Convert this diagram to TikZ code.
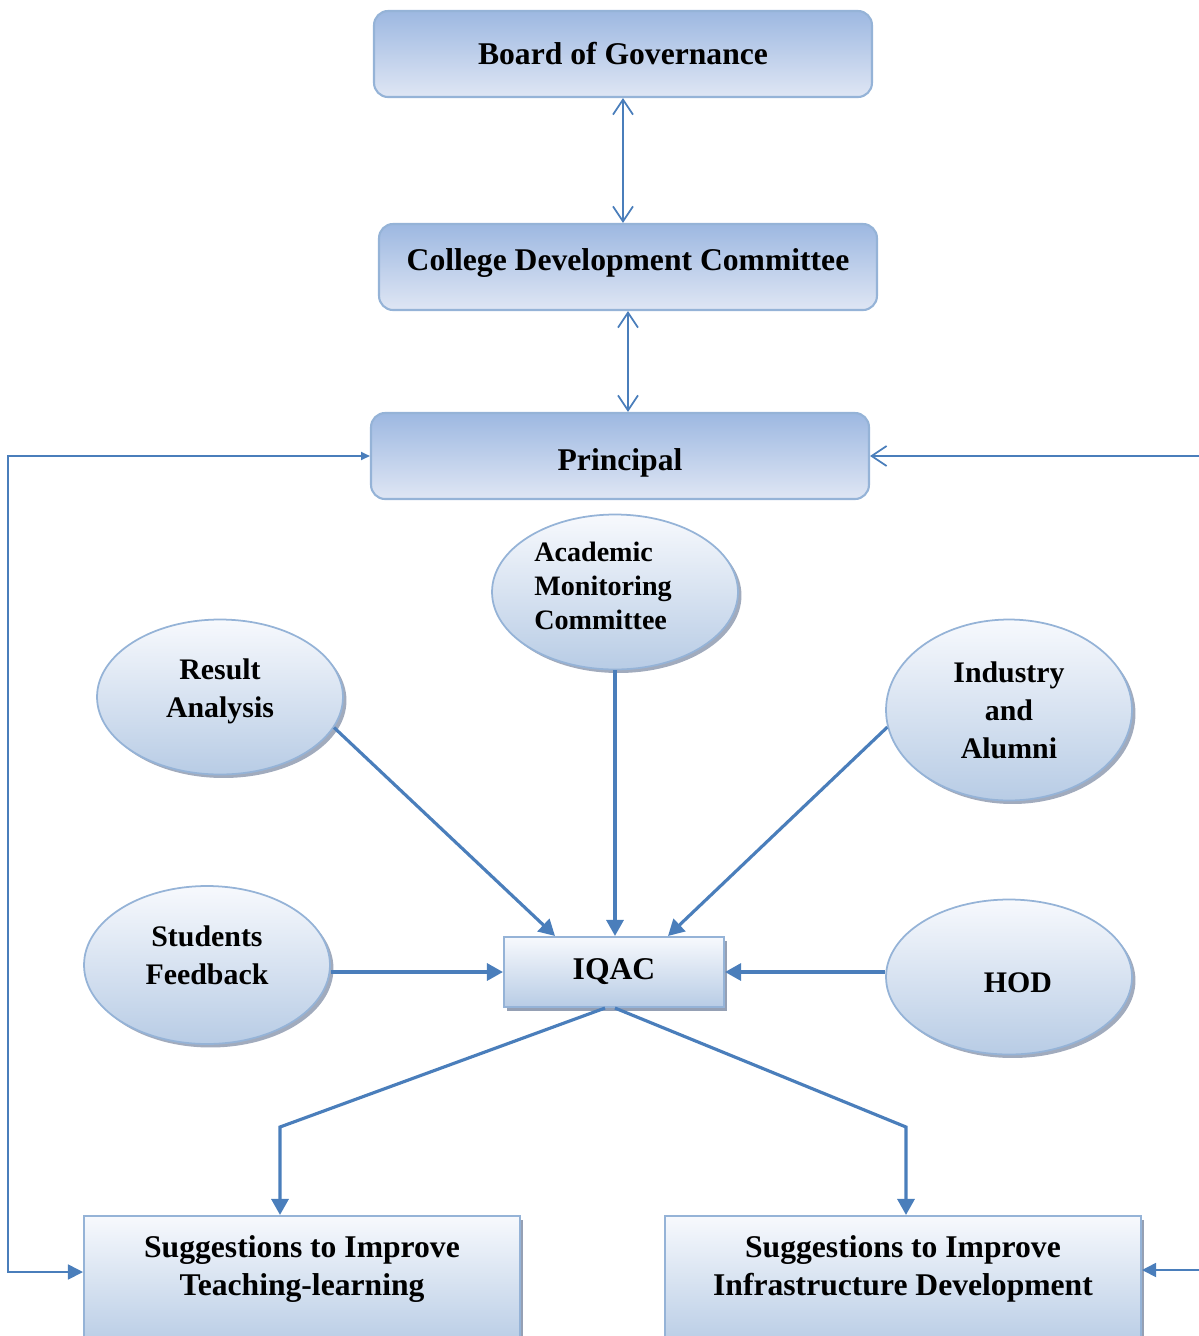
\documentclass[tikz,border=0pt]{standalone}
\usepackage{fontspec}
\setmainfont{Liberation Serif}
\usetikzlibrary{positioning,shapes.geometric,shadows,arrows.meta}

\definecolor{lineblue}{RGB}{74,126,187}
\definecolor{edgeblue}{RGB}{149,179,215}
\definecolor{boxtop}{RGB}{157,184,225}
\definecolor{boxbot}{RGB}{223,230,244}
\definecolor{ovaltop}{RGB}{247,249,253}
\definecolor{ovalbot}{RGB}{184,204,229}
\definecolor{shadowgrey}{RGB}{138,150,172}

\tikzset{
	govbox/.style={draw=edgeblue, line width=1.2pt, rounded corners=0.28cm,
		top color=boxtop, bottom color=boxbot,
		minimum width=9.96cm, minimum height=1.72cm,
		font=\fontsize{18}{21.6}\selectfont\bfseries},
	oval/.style={ellipse, draw=edgeblue, line width=1pt,
		top color=ovaltop, bottom color=ovalbot,
		minimum width=4.92cm, minimum height=3.1cm, inner sep=0pt,
		drop shadow={shadow xshift=0.07cm, shadow yshift=-0.07cm, fill=shadowgrey, opacity=0.8}},
	ovaltext/.style={inner sep=0pt, align=center, font=\fontsize{17}{21.6}\selectfont\bfseries},
	sqbox/.style={draw=edgeblue, line width=1.2pt,
		top color=ovaltop, bottom color=ovalbot,
		drop shadow={shadow xshift=0.06cm, shadow yshift=-0.08cm, fill=shadowgrey, opacity=0.9}},
	sugtext/.style={inner sep=0pt, align=center, font=\fontsize{18}{21.6}\selectfont\bfseries},
	twoway/.style={draw=lineblue, line width=1pt,
		{Straight Barb[length=0.3cm,width=0.4cm]}-{Straight Barb[length=0.3cm,width=0.4cm]}},
	feed/.style={draw=lineblue, line width=1.8pt, -{Triangle[length=0.32cm,width=0.34cm]}},
	side/.style={draw=lineblue, line width=1pt},
}

\begin{document}
\begin{tikzpicture}[x=0.02cm, y=-0.02cm]
	\useasboundingbox (0,0) rectangle (1199,1336);

	% top chain
	\node[govbox] (board) at (623,54) {Board of Governance};
	\node[govbox] (cdc) at (628,267) {\raisebox{0.08cm}[\height][\depth]{College Development Committee}};
	\node[govbox] (principal) at (620,456) {\raisebox{-0.14cm}[\height][\depth]{Principal}};

	% inputs
	\node[oval, label={[ovaltext, yshift=0.12cm]center:Result\\Analysis}] (result) at (220,697) {};
	\node[oval, label={[ovaltext, align=left, font=\fontsize{16}{19.4}\selectfont\bfseries,
		xshift=-0.24cm, yshift=0.12cm]center:Academic\\Monitoring\\Committee}] (amc) at (615,592) {};
	\node[oval, minimum height=3.62cm, label={[ovaltext]center:Industry\\and\\Alumni}] (industry) at (1009,710) {};
	\node[oval, minimum height=3.16cm, label={[ovaltext, yshift=0.2cm]center:Students\\Feedback}] (students) at (207,965) {};
	\node[oval, label={[ovaltext, xshift=0.18cm, yshift=-0.12cm]center:HOD}] (hod) at (1009,977) {};

	\node[sqbox, minimum width=4.4cm, minimum height=1.4cm,
		font=\fontsize{18}{21.6}\selectfont\bfseries] (iqac) at (614,972) {IQAC};

	% outputs
	\node[sqbox, minimum width=8.72cm, minimum height=2.6cm] (teach) at (302,1281) {};
	\node[sugtext, below=0.4cm of teach.north] (teachtxt) {Suggestions to Improve\\Teaching-learning};
	\node[sqbox, minimum width=9.52cm, minimum height=2.6cm] (infra) at (903,1281) {};
	\node[sugtext, below=0.4cm of infra.north] (infratxt) {Suggestions to Improve\\Infrastructure Development};

	\coordinate (lb) at (8,1272);
	\coordinate (rt) at (1199,455);
	\coordinate (rb) at (1199,1270);
	\coordinate (lknee) at (280,1127);
	\coordinate (rknee) at (906,1127);

	\draw[twoway] (board.south) -- (board.south |- cdc.north);
	\draw[twoway] (cdc.south) -- (cdc.south |- principal.north);

	\draw[feed] (result.-15) -- ([xshift=-1.18cm]iqac.north);
	\draw[feed] (amc.south) -- (amc.south |- iqac.north);
	\draw[feed] (industry.188) -- ([xshift=1.08cm]iqac.north);
	\draw[feed] (iqac.west -| students.east) -- (iqac.west);
	\draw[feed] (iqac.east -| hod.west) -- (iqac.east);

	\draw[feed] ([xshift=-0.18cm]iqac.south) -- (lknee) -- (lknee |- teach.north);
	\draw[feed] ([xshift=0.02cm]iqac.south) -- (rknee) -- (rknee |- infra.north);

	% feedback lines
	\draw[side, {Triangle[length=0.18cm,width=0.16cm]}-{Triangle[length=0.3cm,width=0.3cm]}]
		(principal.west) -| (lb) -- (lb -| teach.west);
	\draw[side, -{Straight Barb[length=0.3cm,width=0.4cm]}] (principal.east -| rt) -- (principal.east);
	\draw[side, -{Triangle[length=0.28cm,width=0.28cm]}] (rb) -- (rb -| infra.east);
\end{tikzpicture}
\end{document}
